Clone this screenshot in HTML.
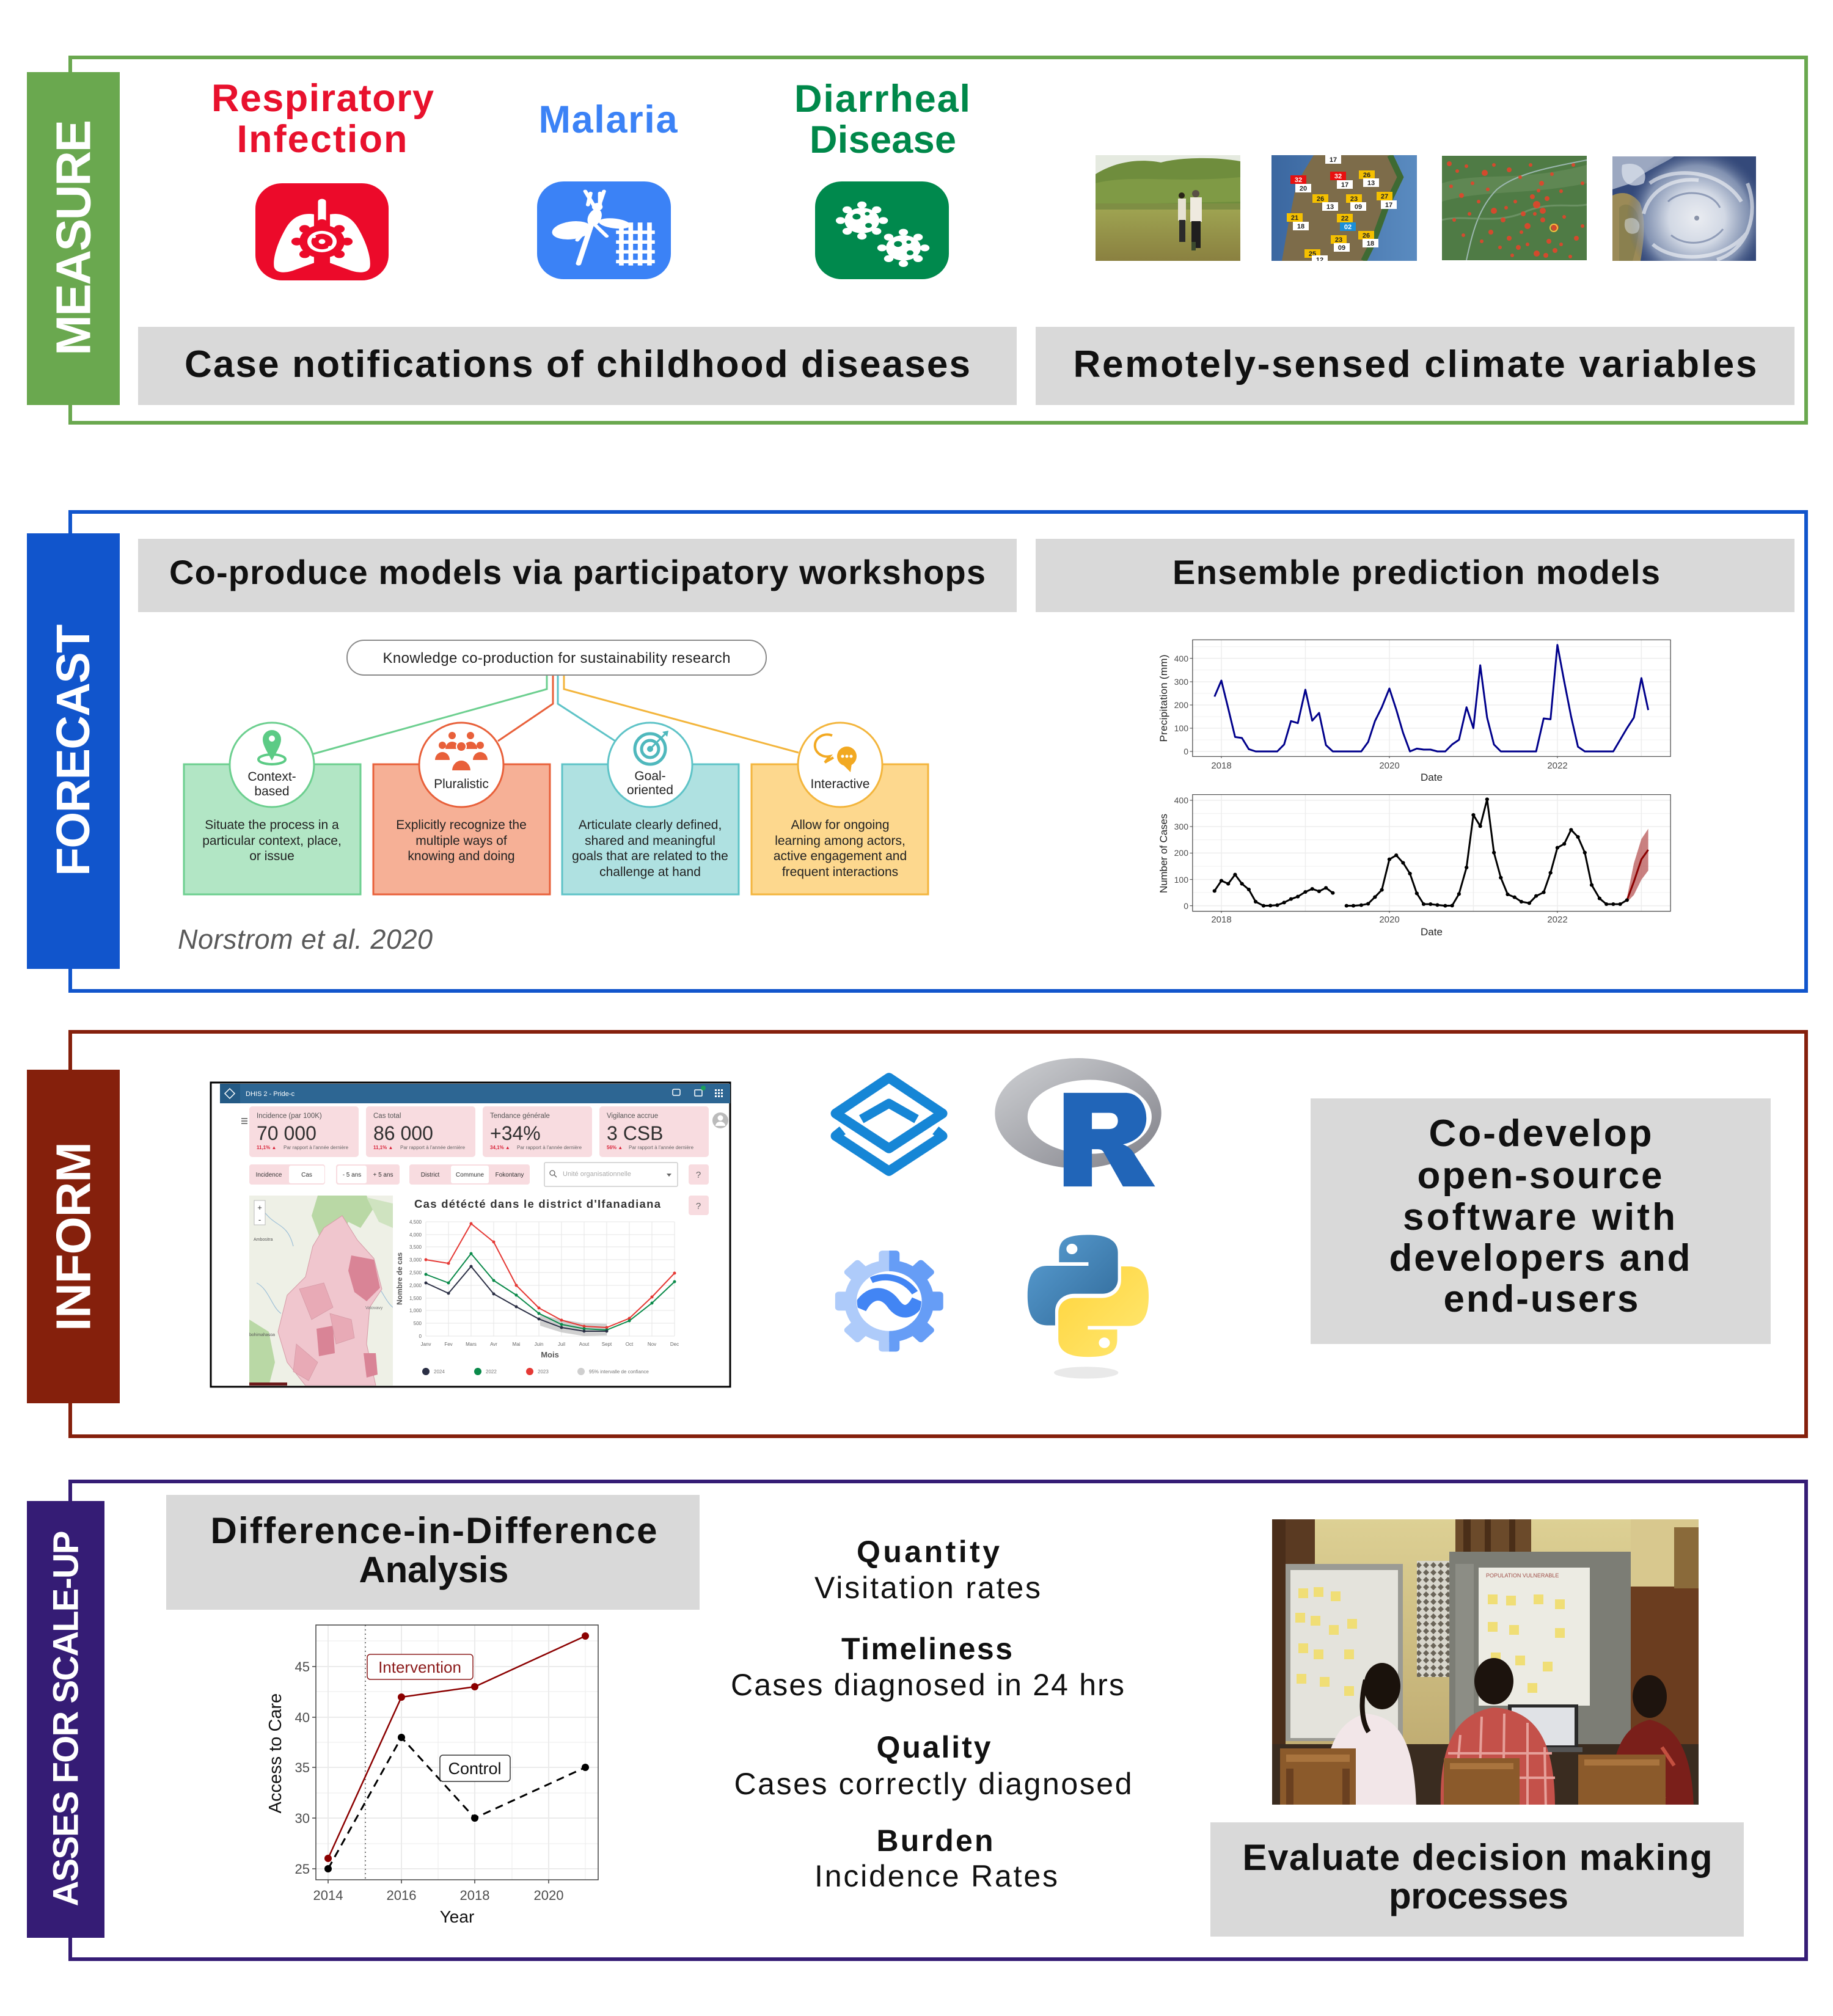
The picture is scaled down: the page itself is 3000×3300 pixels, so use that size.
<!DOCTYPE html>
<html><head><meta charset="utf-8">
<style>
html,body{margin:0;padding:0;background:#fff;width:3000px;height:3300px;overflow:hidden}
svg{display:block}
text{font-family:"Liberation Sans",Arial,sans-serif}
.b{font-weight:bold}
</style></head><body>
<svg xmlns="http://www.w3.org/2000/svg" width="3000" height="3300" viewBox="0 0 3000 3300">
<defs>
 <linearGradient id="rg" x1="0" y1="0" x2="1" y2="1"><stop offset="0" stop-color="#cfd1d4"/><stop offset="1" stop-color="#808088"/></linearGradient>
 <linearGradient id="pyb" x1="0" y1="0" x2="1" y2="1"><stop offset="0" stop-color="#5a9fd4"/><stop offset="1" stop-color="#306998"/></linearGradient>
 <linearGradient id="pyy" x1="0" y1="0" x2="1" y2="1"><stop offset="0" stop-color="#ffe873"/><stop offset="1" stop-color="#ffd43b"/></linearGradient>
 <linearGradient id="grass" x1="0" y1="0" x2="0" y2="1"><stop offset="0" stop-color="#9fa552"/><stop offset="1" stop-color="#8a8040"/></linearGradient>
 <linearGradient id="sea" x1="0" y1="0" x2="1" y2="0"><stop offset="0" stop-color="#3b67a0"/><stop offset="1" stop-color="#5a8bc0"/></linearGradient>
 <radialGradient id="cyc" cx="0.5" cy="0.5" r="0.5"><stop offset="0" stop-color="#ffffff"/><stop offset="0.4" stop-color="#e3e8f0"/><stop offset="0.75" stop-color="#9fadc6" stop-opacity="0.8"/><stop offset="1" stop-color="#4a5d88" stop-opacity="0"/></radialGradient>
 <linearGradient id="wall" x1="0" y1="0" x2="0" y2="1"><stop offset="0" stop-color="#ddd094"/><stop offset="1" stop-color="#b9a46a"/></linearGradient>
 <pattern id="perf" width="12" height="12" patternUnits="userSpaceOnUse"><rect width="12" height="12" fill="#d8d6cc"/><path d="M6 1 L11 6 L6 11 L1 6 Z" fill="#6a6458"/></pattern>
 <clipPath id="cp2"><rect x="2081" y="254" width="238" height="173"/></clipPath>
 <clipPath id="cp3"><rect x="2360" y="255" width="237" height="171"/></clipPath>
 <clipPath id="cp4"><rect x="2639" y="256" width="235" height="171"/></clipPath>
 <clipPath id="cpph"><rect x="2082" y="2487" width="698" height="467"/></clipPath>
 <clipPath id="cpmap"><rect x="408" y="1957" width="235" height="311"/></clipPath>
 <clipPath id="gearR"><rect x="333" y="900" width="400" height="600"/></clipPath>
 <clipPath id="gearIn"><circle cx="333" cy="1190" r="140"/></clipPath>
</defs>
<rect width="3000" height="3300" fill="#fff"/>

<!-- ================= SECTION BOXES ================= -->
<rect x="115" y="94" width="2841" height="598" fill="none" stroke="#6aa84f" stroke-width="6"/>
<rect x="115" y="838" width="2841" height="784" fill="none" stroke="#1155cc" stroke-width="6"/>
<rect x="115" y="1689" width="2841" height="662" fill="none" stroke="#85200c" stroke-width="6"/>
<rect x="115" y="2425" width="2841" height="782" fill="none" stroke="#351c75" stroke-width="6"/>

<rect x="44" y="118" width="152" height="545" fill="#6aa84f"/>
<rect x="44" y="873" width="152" height="713" fill="#1155cc"/>
<rect x="44" y="1751" width="152" height="546" fill="#85200c"/>
<rect x="44" y="2457" width="127" height="715" fill="#351c75"/>

<text class="b" transform="translate(120,389) rotate(-90)" text-anchor="middle" dominant-baseline="central" font-size="80" fill="#fff" textLength="386">MEASURE</text>
<text class="b" transform="translate(120,1228) rotate(-90)" text-anchor="middle" dominant-baseline="central" font-size="77" fill="#fff" textLength="412">FORECAST</text>
<text class="b" transform="translate(120,2024) rotate(-90)" text-anchor="middle" dominant-baseline="central" font-size="80" fill="#fff" textLength="310">INFORM</text>
<text class="b" transform="translate(108,2813) rotate(-90)" text-anchor="middle" dominant-baseline="central" font-size="58" fill="#fff" textLength="615">ASSES FOR SCALE-UP</text>

<!-- ================= MEASURE ================= -->
<text class="b" x="528" y="182" text-anchor="middle" font-size="63" fill="#e8112d" textLength="364">Respiratory</text>
<text class="b" x="527" y="249" text-anchor="middle" font-size="63" fill="#e8112d" textLength="279">Infection</text>
<text class="b" x="995" y="217" text-anchor="middle" font-size="63" fill="#3b82f6" textLength="227">Malaria</text>
<text class="b" x="1444" y="183" text-anchor="middle" font-size="63" fill="#00884a" textLength="288">Diarrheal</text>
<text class="b" x="1445" y="250" text-anchor="middle" font-size="63" fill="#00884a" textLength="240">Disease</text>

<!-- lungs icon -->
<svg x="418" y="300" width="218" height="159" viewBox="0 0 100 100" preserveAspectRatio="none">
 <rect width="100" height="100" rx="20" ry="26" fill="#ec0a2a"/>
 <rect x="47" y="16" width="6" height="26" rx="3" fill="#fff"/>
 <path d="M44 32 C36 30 28 34 23 46 C17 60 13 76 14 86 C15 92 21 93 28 90 L44 82 Z" fill="#fff"/>
 <path d="M56 32 C64 30 72 34 77 46 C83 60 87 76 86 86 C85 92 79 93 72 90 L56 82 Z" fill="#fff"/>
 <g fill="#ec0a2a">
  <circle cx="50" cy="60" r="17"/>
  <circle cx="50" cy="41" r="4"/><circle cx="50" cy="79" r="4"/><circle cx="31" cy="60" r="4"/><circle cx="69" cy="60" r="4"/>
  <circle cx="37" cy="47" r="4"/><circle cx="63" cy="47" r="4"/><circle cx="37" cy="73" r="4"/><circle cx="63" cy="73" r="4"/>
 </g>
 <circle cx="50" cy="60" r="11" fill="#fff"/>
 <circle cx="50" cy="60" r="8" fill="#ec0a2a"/>
 <circle cx="50" cy="60" r="2.5" fill="#fff"/>
 <circle cx="44" cy="55" r="1.5" fill="#fff"/><circle cx="56" cy="66" r="1.5" fill="#fff"/>
</svg>
<!-- mosquito icon -->
<svg x="879" y="297" width="219" height="160" viewBox="0 0 100 100" preserveAspectRatio="none">
 <rect width="100" height="100" rx="20" ry="26" fill="#3b82f6"/>
 <ellipse cx="26" cy="50" rx="15" ry="9" transform="rotate(-12 26 50)" fill="#fff"/>
 <ellipse cx="58" cy="43" rx="12" ry="5" transform="rotate(10 58 43)" fill="#fff"/>
 <g stroke="#fff" stroke-width="3" stroke-linecap="round" fill="none">
  <path d="M43 26 L36 10"/><path d="M46 26 L50 10"/><path d="M40 12 L38 24"/><path d="M47 12 L47 24"/>
  <path d="M44 30 L31 84" stroke-width="4"/>
  <path d="M40 44 L30 60"/><path d="M43 44 L52 56"/>
 </g>
 <ellipse cx="43" cy="37" rx="5" ry="9" transform="rotate(15 43 37)" fill="#fff"/>
 <circle cx="45" cy="26" r="4" fill="#fff"/>
 <g stroke="#fff" stroke-width="3.5" fill="none">
  <path d="M63 42 V86"/><path d="M70 42 V86"/><path d="M77 42 V86"/><path d="M84 42 V86"/>
  <path d="M59 52 H88"/><path d="M59 62 H88"/><path d="M59 72 H88"/><path d="M59 82 H88"/>
 </g>
</svg>
<!-- germs icon -->
<svg x="1334" y="297" width="219" height="160" viewBox="0 0 100 100" preserveAspectRatio="none">
 <rect width="100" height="100" rx="20" ry="26" fill="#00894d"/>
 <g fill="#fff">
  <circle cx="35" cy="40" r="13"/>
  <circle cx="35" cy="24" r="3.5"/><circle cx="35" cy="56" r="3.5"/><circle cx="19" cy="40" r="3.5"/><circle cx="51" cy="40" r="3.5"/>
  <circle cx="24" cy="29" r="3.5"/><circle cx="46" cy="29" r="3.5"/><circle cx="24" cy="51" r="3.5"/><circle cx="46" cy="51" r="3.5"/>
  <circle cx="66" cy="68" r="13"/>
  <circle cx="66" cy="52" r="3.5"/><circle cx="66" cy="84" r="3.5"/><circle cx="50" cy="68" r="3.5"/><circle cx="82" cy="68" r="3.5"/>
  <circle cx="55" cy="57" r="3.5"/><circle cx="77" cy="57" r="3.5"/><circle cx="55" cy="79" r="3.5"/><circle cx="77" cy="79" r="3.5"/>
 </g>
 <g fill="#00894d">
  <circle cx="31" cy="36" r="3"/><circle cx="40" cy="45" r="2.5"/><circle cx="39" cy="33" r="1.8"/>
  <circle cx="62" cy="64" r="3"/><circle cx="71" cy="73" r="2.5"/><circle cx="70" cy="62" r="1.8"/>
 </g>
</svg>

<!-- photo 1 -->
<rect x="1793" y="254" width="237" height="173" fill="#e5eae0"/>
<path d="M1793 285 C1830 262 1870 260 1900 266 C1930 258 1985 256 2030 264 L2030 345 L1793 345 Z" fill="#6f8d3d"/>
<path d="M1793 300 C1850 285 1920 300 2030 290 L2030 330 L1793 335 Z" fill="#7f9a45"/>
<rect x="1793" y="338" width="237" height="89" fill="url(#grass)"/>
<rect x="1793" y="333" width="237" height="10" fill="#7e8e44"/>
<circle cx="1934" cy="320" r="5" fill="#2a2418"/>
<rect x="1928" y="325" width="13" height="36" fill="#e6e1d2"/>
<rect x="1930" y="360" width="10" height="36" fill="#2b2b2b"/>
<circle cx="1957" cy="317" r="6" fill="#5a5046"/>
<rect x="1948" y="323" width="19" height="40" fill="#efeadf"/>
<rect x="1950" y="362" width="15" height="44" fill="#1f1f1f"/>
<rect x="1950" y="396" width="7" height="14" fill="#3b4a2e"/>

<!-- photo 2 map -->
<g clip-path="url(#cp2)">
 <rect x="2081" y="254" width="238" height="173" fill="url(#sea)"/>
 <path d="M2150 254 L2275 254 L2292 290 L2268 340 L2248 395 L2232 427 L2098 427 L2108 370 L2122 300 Z" fill="#7d6c4a"/>
 <path d="M2275 254 L2292 290 L2268 340 L2248 395 L2232 427" stroke="#3e6a33" stroke-width="10" fill="none"/>
 <g font-size="11" font-weight="bold" text-anchor="middle">
  <rect x="2169" y="254" width="26" height="14" fill="#fff"/><text x="2182" y="265" fill="#222">17</text>
  <rect x="2112" y="287" width="26" height="14" fill="#e81010"/><text x="2125" y="298" fill="#fff">32</text>
  <rect x="2120" y="301" width="26" height="14" fill="#fff"/><text x="2133" y="312" fill="#222">20</text>
  <rect x="2177" y="281" width="26" height="14" fill="#e81010"/><text x="2190" y="292" fill="#fff">32</text>
  <rect x="2188" y="295" width="26" height="14" fill="#fff"/><text x="2201" y="306" fill="#222">17</text>
  <rect x="2224" y="279" width="26" height="14" fill="#f5c000"/><text x="2237" y="290" fill="#222">26</text>
  <rect x="2231" y="292" width="26" height="14" fill="#fff"/><text x="2244" y="303" fill="#222">13</text>
  <rect x="2148" y="318" width="26" height="14" fill="#f5c000"/><text x="2161" y="329" fill="#222">26</text>
  <rect x="2164" y="331" width="26" height="14" fill="#fff"/><text x="2177" y="342" fill="#222">13</text>
  <rect x="2203" y="318" width="26" height="14" fill="#f5c000"/><text x="2216" y="329" fill="#222">23</text>
  <rect x="2210" y="331" width="26" height="14" fill="#fff"/><text x="2223" y="342" fill="#222">09</text>
  <rect x="2253" y="314" width="26" height="14" fill="#f5c000"/><text x="2266" y="325" fill="#222">27</text>
  <rect x="2260" y="328" width="26" height="14" fill="#fff"/><text x="2273" y="339" fill="#222">17</text>
  <rect x="2106" y="349" width="26" height="14" fill="#f5c000"/><text x="2119" y="360" fill="#222">21</text>
  <rect x="2116" y="363" width="26" height="14" fill="#fff"/><text x="2129" y="374" fill="#222">18</text>
  <rect x="2188" y="350" width="26" height="14" fill="#f5c000"/><text x="2201" y="361" fill="#222">22</text>
  <rect x="2193" y="364" width="26" height="14" fill="#1a8fd8"/><text x="2206" y="375" fill="#fff">02</text>
  <rect x="2223" y="378" width="26" height="14" fill="#f5c000"/><text x="2236" y="389" fill="#222">26</text>
  <rect x="2230" y="391" width="26" height="14" fill="#fff"/><text x="2243" y="402" fill="#222">18</text>
  <rect x="2178" y="385" width="26" height="14" fill="#f5c000"/><text x="2191" y="396" fill="#222">23</text>
  <rect x="2183" y="398" width="26" height="14" fill="#fff"/><text x="2196" y="409" fill="#222">09</text>
  <rect x="2135" y="408" width="26" height="14" fill="#f5c000"/><text x="2148" y="419" fill="#222">25</text>
  <rect x="2147" y="418" width="26" height="14" fill="#fff"/><text x="2160" y="429" fill="#222">12</text>
 </g>
</g>

<!-- photo 3 fires -->
<g clip-path="url(#cp3)">
 <rect x="2360" y="255" width="237" height="171" fill="#4f7b45"/>
 <path d="M2360 300 C2420 280 2480 300 2597 270 L2597 300 C2500 320 2430 310 2360 330 Z" fill="#6a8f5e" opacity="0.6"/>
 <path d="M2400 426 C2410 380 2420 340 2450 310 C2480 285 2530 275 2597 262" stroke="#9cb7b0" stroke-width="2" fill="none"/>
 <path d="M2360 360 C2400 350 2450 370 2500 345 C2540 330 2570 340 2597 335" stroke="#7fa078" stroke-width="3" fill="none" opacity="0.6"/>
 <g fill="#e2452b" opacity="0.9">
  <circle cx="2372" cy="268" r="4"/><circle cx="2385" cy="280" r="3"/><circle cx="2400" cy="272" r="3"/><circle cx="2430" cy="283" r="5"/>
  <circle cx="2445" cy="270" r="3"/><circle cx="2470" cy="278" r="4"/><circle cx="2488" cy="290" r="3"/><circle cx="2505" cy="270" r="3"/>
  <circle cx="2523" cy="300" r="4"/><circle cx="2540" cy="285" r="3"/><circle cx="2555" cy="313" r="3"/><circle cx="2575" cy="270" r="3"/>
  <circle cx="2375" cy="305" r="3"/><circle cx="2392" cy="320" r="4"/><circle cx="2410" cy="300" r="3"/><circle cx="2420" cy="330" r="3"/>
  <circle cx="2445" cy="345" r="5"/><circle cx="2460" cy="360" r="4"/><circle cx="2480" cy="330" r="3"/><circle cx="2493" cy="350" r="4"/>
  <circle cx="2500" cy="370" r="5"/><circle cx="2515" cy="335" r="6"/><circle cx="2525" cy="345" r="5"/><circle cx="2532" cy="325" r="4"/>
  <circle cx="2525" cy="360" r="4"/><circle cx="2545" cy="372" r="6"/><circle cx="2560" cy="355" r="3"/><circle cx="2580" cy="390" r="4"/>
  <circle cx="2470" cy="390" r="4"/><circle cx="2455" cy="405" r="3"/><circle cx="2485" cy="405" r="4"/><circle cx="2515" cy="415" r="5"/>
  <circle cx="2530" cy="418" r="4"/><circle cx="2545" cy="410" r="4"/><circle cx="2380" cy="360" r="3"/><circle cx="2395" cy="385" r="3"/>
  <circle cx="2425" cy="395" r="3"/><circle cx="2570" cy="420" r="3"/><circle cx="2590" cy="300" r="3"/><circle cx="2435" cy="310" r="3"/>
  <circle cx="2508" cy="322" r="4"/><circle cx="2518" cy="312" r="3"/><circle cx="2512" cy="350" r="3"/><circle cx="2535" cy="395" r="4"/>
  <circle cx="2490" cy="380" r="3"/><circle cx="2465" cy="340" r="3"/><circle cx="2440" cy="380" r="4"/><circle cx="2405" cy="350" r="3"/>
  <circle cx="2555" cy="400" r="3"/><circle cx="2500" cy="400" r="3"/><circle cx="2475" cy="418" r="3"/><circle cx="2590" cy="370" r="3"/>
 </g>
 <circle cx="2543" cy="373" r="6" fill="none" stroke="#f0c040" stroke-width="2"/>
</g>

<!-- photo 4 cyclone -->
<g clip-path="url(#cp4)">
 <rect x="2639" y="256" width="235" height="171" fill="#34497a"/>
 <path d="M2639 256 L2740 256 C2720 270 2690 280 2670 300 L2639 310 Z" fill="#c9d2e0" opacity="0.7"/>
 <path d="M2639 320 C2655 312 2672 316 2684 332 C2695 360 2690 395 2685 427 L2639 427 Z" fill="#9b8a57"/>
 <path d="M2650 340 C2660 330 2672 335 2680 350 C2685 370 2680 400 2672 427 L2650 427 Z" fill="#7e7a4a" opacity="0.6"/>
 <circle cx="2777" cy="357" r="115" fill="url(#cyc)" opacity="0.9"/>
 <g fill="none" stroke="#ffffff" stroke-width="6" opacity="0.55">
  <path d="M2700 300 C2740 270 2820 280 2850 330"/>
  <path d="M2705 400 C2740 430 2820 430 2860 380"/>
  <path d="M2690 350 C2700 310 2740 290 2780 295"/>
  <path d="M2860 300 C2880 350 2860 410 2810 425"/>
 </g>
 <g fill="none" stroke="#4d5f8a" stroke-width="3" opacity="0.5">
  <path d="M2730 330 C2750 310 2800 310 2815 340"/>
  <path d="M2735 385 C2760 405 2800 400 2820 375"/>
 </g>
 <path d="M2655 270 C2680 262 2700 280 2690 300 C2670 310 2650 300 2655 270 Z" fill="#dfe5ee" opacity="0.7"/>
 <path d="M2660 360 C2675 350 2690 365 2680 380 C2668 388 2655 378 2660 360 Z" fill="#dfe5ee" opacity="0.5"/>
 <circle cx="2777" cy="357" r="4" fill="#8a93a8"/>
</g>

<!-- gray boxes -->
<rect x="226" y="535" width="1438" height="128" fill="#d9d9d9"/>
<rect x="1695" y="535" width="1242" height="128" fill="#d9d9d9"/>
<text class="b" x="945" y="617" text-anchor="middle" font-size="62" fill="#111" textLength="1286">Case notifications of childhood diseases</text>
<text class="b" x="2316" y="617" text-anchor="middle" font-size="62" fill="#111" textLength="1119">Remotely-sensed climate variables</text>

<!-- ================= FORECAST ================= -->
<rect x="226" y="882" width="1438" height="120" fill="#d9d9d9"/>
<rect x="1695" y="882" width="1242" height="120" fill="#d9d9d9"/>
<text class="b" x="945" y="956" text-anchor="middle" font-size="56" fill="#111" textLength="1336">Co-produce models via participatory workshops</text>
<text class="b" x="2318" y="956" text-anchor="middle" font-size="56" fill="#111" textLength="798">Ensemble prediction models</text>

<!-- diagram connectors -->
<g fill="none" stroke-width="3">
 <path d="M895 1105 L895 1128 L513 1234" stroke="#6ccf8f"/>
 <path d="M905 1105 L905 1152 L815 1213" stroke="#e8603a"/>
 <path d="M913 1105 L913 1152 L1007 1213" stroke="#5ec3c7"/>
 <path d="M923 1105 L923 1128 L1307 1232" stroke="#f3b53c"/>
</g>
<rect x="568" y="1048" width="686" height="57" rx="28" fill="#fff" stroke="#8a8a8a" stroke-width="2"/>
<text x="911" y="1085" text-anchor="middle" font-size="24" fill="#222" textLength="569">Knowledge co-production for sustainability research</text>

<!-- four boxes -->
<rect x="301" y="1251" width="289" height="213" fill="#b2e6c5" stroke="#6ccf8f" stroke-width="3"/>
<rect x="611" y="1251" width="289" height="213" fill="#f6b096" stroke="#e8603a" stroke-width="3"/>
<rect x="920" y="1251" width="289" height="213" fill="#afe1e1" stroke="#5ec3c7" stroke-width="3"/>
<rect x="1230" y="1251" width="289" height="213" fill="#fdd88e" stroke="#f3b53c" stroke-width="3"/>
<circle cx="445" cy="1252" r="69" fill="#fff" stroke="#6ccf8f" stroke-width="3"/>
<circle cx="755" cy="1252" r="69" fill="#fff" stroke="#e8603a" stroke-width="3"/>
<circle cx="1064" cy="1252" r="69" fill="#fff" stroke="#5ec3c7" stroke-width="3"/>
<circle cx="1375" cy="1252" r="69" fill="#fff" stroke="#f3b53c" stroke-width="3"/>

<!-- pin -->
<ellipse cx="445" cy="1243" rx="22" ry="8" fill="none" stroke="#5ccb85" stroke-width="4"/>
<path d="M445 1245 C437 1230 430 1220 430 1210 A15 15 0 1 1 460 1210 C460 1220 453 1230 445 1245 Z" fill="#5ccb85"/>
<circle cx="445" cy="1209" r="5" fill="#fff"/>
<!-- people -->
<g fill="#e8603a">
 <circle cx="740" cy="1204" r="6"/><circle cx="770" cy="1204" r="6"/>
 <path d="M729 1226 a11 12 0 0 1 22 0 z"/><path d="M759 1226 a11 12 0 0 1 22 0 z"/>
 <circle cx="724" cy="1220" r="6"/><circle cx="786" cy="1220" r="6"/>
 <path d="M712 1244 a12 13 0 0 1 24 0 z"/><path d="M774 1244 a12 13 0 0 1 24 0 z"/>
 <circle cx="755" cy="1222" r="8" stroke="#fff" stroke-width="2"/>
 <path d="M739 1262 a16 18 0 0 1 32 0 z" stroke="#fff" stroke-width="2"/>
</g>
<!-- target -->
<g fill="none" stroke="#4fb8bd" stroke-width="5">
 <circle cx="1064" cy="1226" r="25"/><circle cx="1064" cy="1226" r="14"/>
</g>
<circle cx="1064" cy="1226" r="5" fill="#4fb8bd"/>
<path d="M1064 1226 L1088 1202" stroke="#4fb8bd" stroke-width="3"/>
<path d="M1084 1198 L1094 1196 L1092 1206 Z" fill="#4fb8bd"/>
<!-- bubbles -->
<path d="M1362 1204 a20 18 0 1 0 -4 34 l-8 10 l14 -8" fill="none" stroke="#f2a922" stroke-width="4"/>
<circle cx="1386" cy="1238" r="16" fill="#f2a922"/>
<path d="M1380 1252 L1392 1264 L1394 1250 Z" fill="#f2a922"/>
<g fill="#fff"><circle cx="1379" cy="1238" r="2.5"/><circle cx="1386" cy="1238" r="2.5"/><circle cx="1393" cy="1238" r="2.5"/></g>

<g font-size="21" fill="#222" text-anchor="middle">
 <text x="445" y="1278">Context-</text><text x="445" y="1302">based</text>
 <text x="755" y="1290">Pluralistic</text>
 <text x="1064" y="1277">Goal-</text><text x="1064" y="1300">oriented</text>
 <text x="1375" y="1290">Interactive</text>
 <text x="445" y="1357">Situate the process in a</text>
 <text x="445" y="1383">particular context, place,</text>
 <text x="445" y="1408">or issue</text>
 <text x="755" y="1357">Explicitly recognize the</text>
 <text x="755" y="1383">multiple ways of</text>
 <text x="755" y="1408">knowing and doing</text>
 <text x="1064" y="1357">Articulate clearly defined,</text>
 <text x="1064" y="1383">shared and meaningful</text>
 <text x="1064" y="1408">goals that are related to the</text>
 <text x="1064" y="1434">challenge at hand</text>
 <text x="1375" y="1357">Allow for ongoing</text>
 <text x="1375" y="1383">learning among actors,</text>
 <text x="1375" y="1408">active engagement and</text>
 <text x="1375" y="1434">frequent interactions</text>
</g>
<text x="291" y="1553" font-size="45" font-style="italic" fill="#595959" textLength="417">Norstrom et al. 2020</text>

<!-- precipitation chart -->
<g transform="translate(1880,1030) scale(0.56117,0.33333)">
 <rect x="128" y="52" width="1394" height="573" fill="#fff"/>
 <path d="M128 600 H1522 M128 486 H1522 M128 372 H1522 M128 258 H1522 M128 143 H1522" stroke="#ededed" stroke-width="1.5" vector-effect="non-scaling-stroke"/>
 <path d="M128 543 H1522 M128 429 H1522 M128 315 H1522 M128 200 H1522 M128 86 H1522" stroke="#ededed" stroke-width="0.8" vector-effect="non-scaling-stroke"/>
 <path d="M212 52 V625 M457 52 V625 M702 52 V625 M947 52 V625 M1192 52 V625 M1437 52 V625" stroke="#ededed" stroke-width="1.5" vector-effect="non-scaling-stroke"/>
 <polyline fill="none" stroke="#00008b" stroke-width="3" stroke-linejoin="round" vector-effect="non-scaling-stroke" points="192,331 212,252 232,389 252,529 272,534 292,589 312,600 332,600 352,600 375,600 395,566 415,451 435,461 457,297 477,449 497,411 517,569 537,600 560,600 580,600 600,600 620,600 640,554 660,451 680,383 702,291 722,394 742,509 762,600 782,586 802,591 822,591 842,600 865,600 885,566 905,543 927,383 947,486 967,177 987,434 1007,566 1027,600 1050,600 1070,600 1090,600 1110,600 1130,600 1152,438 1172,442 1192,77 1212,257 1232,429 1252,577 1272,600 1295,600 1315,600 1335,600 1355,600 1375,543 1395,486 1415,434 1437,240 1457,397"/>
 <rect x="128" y="52" width="1394" height="573" fill="none" stroke="#444" stroke-width="1.2" vector-effect="non-scaling-stroke"/>
 <path d="M120 600 H128 M120 486 H128 M120 372 H128 M120 258 H128 M120 143 H128 M212 625 V633 M702 625 V633 M1192 625 V633" stroke="#444" stroke-width="1" vector-effect="non-scaling-stroke"/>
</g>
<g font-size="14" fill="#4d4d4d" text-anchor="end">
 <text x="1945" y="1235">0</text><text x="1945" y="1197">100</text><text x="1945" y="1159">200</text><text x="1945" y="1121">300</text><text x="1945" y="1083">400</text>
</g>
<g font-size="15" fill="#4d4d4d" text-anchor="middle">
 <text x="1999" y="1258">2018</text><text x="2274" y="1258">2020</text><text x="2549" y="1258">2022</text>
</g>
<text x="2343" y="1278" font-size="17" text-anchor="middle" fill="#222">Date</text>
<text transform="translate(1910,1143) rotate(-90)" font-size="17" text-anchor="middle" fill="#222" textLength="143">Precipitation (mm)</text>

<!-- cases chart -->
<g transform="translate(1880,1030) scale(0.56117,0.33333)">
 <rect x="128" y="812" width="1394" height="573" fill="#fff"/>
 <path d="M128 1358 H1522 M128 1229 H1522 M128 1099 H1522 M128 969 H1522 M128 840 H1522" stroke="#ededed" stroke-width="1.5" vector-effect="non-scaling-stroke"/>
 <path d="M128 1293 H1522 M128 1164 H1522 M128 1034 H1522 M128 905 H1522" stroke="#ededed" stroke-width="0.8" vector-effect="non-scaling-stroke"/>
 <path d="M212 812 V1385 M457 812 V1385 M702 812 V1385 M947 812 V1385 M1192 812 V1385 M1437 812 V1385" stroke="#ededed" stroke-width="1.5" vector-effect="non-scaling-stroke"/>
 <polygon points="1395,1318 1415,1150 1437,1030 1457,980 1457,1185 1437,1230 1415,1305 1395,1340" fill="#b24a4a" opacity="0.7"/>
 <polyline fill="none" stroke="#000" stroke-width="3" stroke-linejoin="round" vector-effect="non-scaling-stroke" points="192,1285 212,1235 232,1250 252,1205 272,1250 292,1278 312,1338 335,1358 355,1357 375,1355 395,1342 415,1325 435,1313 457,1290 477,1275 497,1287 517,1270 537,1295"/>
 <polyline fill="none" stroke="#000" stroke-width="3" stroke-linejoin="round" vector-effect="non-scaling-stroke" points="577,1358 597,1358 620,1355 640,1348 660,1315 680,1280 702,1130 722,1110 742,1147 762,1200 782,1297 802,1350 822,1350 842,1354 865,1358 885,1357 905,1300 927,1170 947,912 967,967 987,835 1007,1097 1027,1220 1047,1302 1067,1316 1087,1338 1110,1345 1130,1310 1152,1292 1172,1196 1192,1073 1212,1054 1232,985 1252,1020 1272,1097 1292,1256 1315,1322 1335,1350 1355,1350 1375,1350 1395,1330"/>
 <polyline fill="none" stroke="#8b0000" stroke-width="3" vector-effect="non-scaling-stroke" points="1395,1330 1415,1240 1437,1130 1457,1083"/>
 <g fill="#000">
  <ellipse cx="192" cy="1285" rx="5.6" ry="9"/><ellipse cx="212" cy="1235" rx="5.6" ry="9"/><ellipse cx="232" cy="1250" rx="5.6" ry="9"/><ellipse cx="252" cy="1205" rx="5.6" ry="9"/><ellipse cx="272" cy="1250" rx="5.6" ry="9"/><ellipse cx="292" cy="1278" rx="5.6" ry="9"/><ellipse cx="312" cy="1338" rx="5.6" ry="9"/><ellipse cx="335" cy="1358" rx="5.6" ry="9"/><ellipse cx="355" cy="1357" rx="5.6" ry="9"/><ellipse cx="375" cy="1355" rx="5.6" ry="9"/><ellipse cx="395" cy="1342" rx="5.6" ry="9"/><ellipse cx="415" cy="1325" rx="5.6" ry="9"/><ellipse cx="435" cy="1313" rx="5.6" ry="9"/><ellipse cx="457" cy="1290" rx="5.6" ry="9"/><ellipse cx="477" cy="1275" rx="5.6" ry="9"/><ellipse cx="497" cy="1287" rx="5.6" ry="9"/><ellipse cx="517" cy="1270" rx="5.6" ry="9"/><ellipse cx="537" cy="1295" rx="5.6" ry="9"/>
  <ellipse cx="577" cy="1358" rx="5.6" ry="9"/><ellipse cx="597" cy="1358" rx="5.6" ry="9"/><ellipse cx="620" cy="1355" rx="5.6" ry="9"/><ellipse cx="640" cy="1348" rx="5.6" ry="9"/><ellipse cx="660" cy="1315" rx="5.6" ry="9"/><ellipse cx="680" cy="1280" rx="5.6" ry="9"/><ellipse cx="702" cy="1130" rx="5.6" ry="9"/><ellipse cx="722" cy="1110" rx="5.6" ry="9"/><ellipse cx="742" cy="1147" rx="5.6" ry="9"/><ellipse cx="762" cy="1200" rx="5.6" ry="9"/><ellipse cx="782" cy="1297" rx="5.6" ry="9"/><ellipse cx="802" cy="1350" rx="5.6" ry="9"/><ellipse cx="822" cy="1350" rx="5.6" ry="9"/><ellipse cx="842" cy="1354" rx="5.6" ry="9"/><ellipse cx="865" cy="1358" rx="5.6" ry="9"/><ellipse cx="885" cy="1357" rx="5.6" ry="9"/><ellipse cx="905" cy="1300" rx="5.6" ry="9"/><ellipse cx="927" cy="1170" rx="5.6" ry="9"/><ellipse cx="947" cy="912" rx="5.6" ry="9"/><ellipse cx="967" cy="967" rx="5.6" ry="9"/><ellipse cx="987" cy="835" rx="5.6" ry="9"/><ellipse cx="1007" cy="1097" rx="5.6" ry="9"/><ellipse cx="1027" cy="1220" rx="5.6" ry="9"/><ellipse cx="1047" cy="1302" rx="5.6" ry="9"/><ellipse cx="1067" cy="1316" rx="5.6" ry="9"/><ellipse cx="1087" cy="1338" rx="5.6" ry="9"/><ellipse cx="1110" cy="1345" rx="5.6" ry="9"/><ellipse cx="1130" cy="1310" rx="5.6" ry="9"/><ellipse cx="1152" cy="1292" rx="5.6" ry="9"/><ellipse cx="1172" cy="1196" rx="5.6" ry="9"/><ellipse cx="1192" cy="1073" rx="5.6" ry="9"/><ellipse cx="1212" cy="1054" rx="5.6" ry="9"/><ellipse cx="1232" cy="985" rx="5.6" ry="9"/><ellipse cx="1252" cy="1020" rx="5.6" ry="9"/><ellipse cx="1272" cy="1097" rx="5.6" ry="9"/><ellipse cx="1292" cy="1256" rx="5.6" ry="9"/><ellipse cx="1315" cy="1322" rx="5.6" ry="9"/><ellipse cx="1335" cy="1350" rx="5.6" ry="9"/><ellipse cx="1355" cy="1350" rx="5.6" ry="9"/><ellipse cx="1375" cy="1350" rx="5.6" ry="9"/><ellipse cx="1395" cy="1330" rx="5.6" ry="9"/>
 </g>
 <rect x="128" y="812" width="1394" height="573" fill="none" stroke="#444" stroke-width="1.2" vector-effect="non-scaling-stroke"/>
 <path d="M120 1358 H128 M120 1229 H128 M120 1099 H128 M120 969 H128 M120 840 H128 M212 1385 V1393 M702 1385 V1393 M1192 1385 V1393" stroke="#444" stroke-width="1" vector-effect="non-scaling-stroke"/>
</g>
<g font-size="14" fill="#4d4d4d" text-anchor="end">
 <text x="1945" y="1488">0</text><text x="1945" y="1445">100</text><text x="1945" y="1401">200</text><text x="1945" y="1358">300</text><text x="1945" y="1315">400</text>
</g>
<g font-size="15" fill="#4d4d4d" text-anchor="middle">
 <text x="1999" y="1510">2018</text><text x="2274" y="1510">2020</text><text x="2549" y="1510">2022</text>
</g>
<text x="2343" y="1531" font-size="17" text-anchor="middle" fill="#222">Date</text>
<text transform="translate(1910,1397) rotate(-90)" font-size="17" text-anchor="middle" fill="#222" textLength="130">Number of Cases</text>

<!-- ================= INFORM ================= -->
<!-- dashboard -->
<rect x="345" y="1772" width="850" height="498" fill="#fff" stroke="#000" stroke-width="3"/>
<rect x="360" y="1774" width="835" height="32" fill="#2d6693"/>
<rect x="360" y="1774" width="33" height="32" fill="#245a85"/>
<path d="M376 1782 L384 1790 L376 1798 L368 1790 Z" fill="none" stroke="#fff" stroke-width="1.5"/>
<text x="402" y="1794" font-size="11" fill="#fff">DHIS 2 - Pride-c</text>
<rect x="1101" y="1783" width="12" height="10" rx="2" fill="none" stroke="#fff" stroke-width="1.5"/>
<rect x="1137" y="1784" width="12" height="10" rx="1" fill="none" stroke="#fff" stroke-width="1.5"/>
<circle cx="1151" cy="1781" r="4" fill="#1b9e5a"/>
<g fill="#fff"><rect x="1170" y="1783" width="3" height="3"/><rect x="1175" y="1783" width="3" height="3"/><rect x="1180" y="1783" width="3" height="3"/><rect x="1170" y="1788" width="3" height="3"/><rect x="1175" y="1788" width="3" height="3"/><rect x="1180" y="1788" width="3" height="3"/><rect x="1170" y="1793" width="3" height="3"/><rect x="1175" y="1793" width="3" height="3"/><rect x="1180" y="1793" width="3" height="3"/></g>
<path d="M395 1831 H405 M395 1835 H405 M395 1839 H405" stroke="#555" stroke-width="1.5"/>

<g>
 <rect x="408" y="1811" width="179" height="83" rx="5" fill="#f8dce0"/>
 <rect x="599" y="1811" width="179" height="83" rx="5" fill="#f8dce0"/>
 <rect x="790" y="1811" width="179" height="83" rx="5" fill="#f8dce0"/>
 <rect x="981" y="1811" width="179" height="83" rx="5" fill="#f8dce0"/>
 <g font-size="11.5" fill="#555">
  <text x="420" y="1830">Incidence (par 100K)</text><text x="611" y="1830">Cas total</text><text x="802" y="1830">Tendance générale</text><text x="993" y="1830">Vigilance accrue</text>
 </g>
 <g font-size="32" fill="#2f2f2f">
  <text x="420" y="1866">70 000</text><text x="611" y="1866">86 000</text><text x="802" y="1866">+34%</text><text x="993" y="1866">3 CSB</text>
 </g>
 <g font-size="8" fill="#d9263b" font-weight="bold">
  <text x="420" y="1881">11,1% ▲</text><text x="611" y="1881">11,1% ▲</text><text x="802" y="1881">34,1% ▲</text><text x="993" y="1881">56% ▲</text>
 </g>
 <g font-size="8" fill="#666">
  <text x="464" y="1881">Par rapport à l'année dernière</text><text x="655" y="1881">Par rapport à l'année dernière</text><text x="846" y="1881">Par rapport à l'année dernière</text><text x="1029" y="1881">Par rapport à l'année dernière</text>
 </g>
</g>
<circle cx="1179" cy="1834" r="13" fill="#bbb"/>
<circle cx="1179" cy="1830" r="4.5" fill="#fff"/><path d="M1171 1843 a8 7 0 0 1 16 0 z" fill="#fff"/>

<!-- filters -->
<rect x="408" y="1906" width="124" height="33" rx="4" fill="#f8dce0"/>
<rect x="473" y="1908" width="58" height="29" rx="3" fill="#fff"/>
<rect x="550" y="1906" width="104" height="33" rx="4" fill="#f8dce0"/>
<rect x="552" y="1908" width="48" height="29" rx="3" fill="#fff"/>
<rect x="670" y="1906" width="197" height="33" rx="4" fill="#f8dce0"/>
<rect x="738" y="1908" width="62" height="29" rx="3" fill="#fff"/>
<rect x="891" y="1903" width="218" height="39" rx="2" fill="#fff" stroke="#ccc" stroke-width="1.5"/>
<rect x="1127" y="1906" width="33" height="33" rx="4" fill="#f8dce0"/>
<g font-size="10" fill="#333" text-anchor="middle">
 <text x="440" y="1926">Incidence</text><text x="502" y="1926">Cas</text>
 <text x="576" y="1926">- 5 ans</text><text x="627" y="1926">+ 5 ans</text>
 <text x="704" y="1926">District</text><text x="769" y="1926">Commune</text><text x="834" y="1926">Fokontany</text>
</g>
<circle cx="904" cy="1920" r="4" fill="none" stroke="#666" stroke-width="1.3"/><path d="M907 1923 L911 1927" stroke="#666" stroke-width="1.3"/>
<text x="921" y="1925" font-size="11" fill="#aaa">Unité organisationnelle</text>
<path d="M1091 1921 L1099 1921 L1095 1926 Z" fill="#666"/>
<text x="1143" y="1928" font-size="15" fill="#666" text-anchor="middle">?</text>

<!-- map -->
<g clip-path="url(#cpmap)">
 <rect x="408" y="1957" width="235" height="311" fill="#eef0e6"/>
 <path d="M520 1957 L600 1957 L610 1980 L590 2010 L570 2000 L555 2040 L540 2060 L525 2030 L510 1990 Z" fill="#b9d8a5"/>
 <path d="M600 1960 L643 1970 L643 2010 L620 2000 Z" fill="#cfe3c0"/>
 <path d="M408 2160 L440 2180 L450 2230 L440 2268 L408 2268 Z" fill="#b9d8a5"/>
 <path d="M430 1980 C450 2010 470 2000 480 2040 M600 2080 C620 2100 630 2130 643 2140 M420 2100 C440 2110 445 2140 460 2150" stroke="#9ec0d8" stroke-width="1.2" fill="none"/>
 <path d="M530 2010 L560 1990 L585 2030 L612 2060 L625 2110 L605 2140 L600 2200 L615 2268 L500 2268 L470 2230 L455 2180 L470 2120 L500 2090 L512 2040 Z" fill="#f0c6ce" stroke="#d59aa6" stroke-width="1"/>
 <path d="M575 2055 L612 2062 L622 2108 L600 2130 L580 2115 L570 2080 Z" fill="#d98496"/>
 <path d="M518 2175 L545 2170 L548 2215 L522 2220 Z" fill="#d98496"/>
 <path d="M595 2215 L615 2215 L618 2250 L600 2255 Z" fill="#d98496"/>
 <path d="M490 2110 L530 2100 L545 2140 L510 2160 Z M540 2150 L575 2160 L580 2190 L550 2200 Z M485 2200 L520 2230 L505 2260 L480 2245 Z" fill="#e8aab6" stroke="#d59aa6" stroke-width="0.8"/>
 <rect x="416" y="1965" width="18" height="40" fill="#fff" stroke="#bbb"/>
 <text x="425" y="1981" font-size="13" text-anchor="middle" fill="#333">+</text>
 <text x="425" y="2001" font-size="13" text-anchor="middle" fill="#333">-</text>
 <text x="415" y="2031" font-size="7" fill="#555">Ambositra</text>
 <text x="598" y="2143" font-size="7" fill="#777">Vatovavy</text>
 <text x="408" y="2187" font-size="7" fill="#555">bohimahasoa</text>
 <rect x="360" y="2263" width="110" height="8" fill="#6d1b1b"/>
</g>

<!-- dashboard chart -->
<text x="678" y="1977" font-size="18.5" font-weight="bold" fill="#333" textLength="403">Cas détécté dans le district d'Ifanadiana</text>
<rect x="1127" y="1957" width="33" height="32" rx="4" fill="#f8dce0"/>
<text x="1143" y="1979" font-size="15" fill="#666" text-anchor="middle">?</text>
<g stroke="#e6e6e6" stroke-width="1">
 <path d="M697 2187 H1104 M697 2166 H1104 M697 2145 H1104 M697 2125 H1104 M697 2104 H1104 M697 2083 H1104 M697 2062 H1104 M697 2041 H1104 M697 2021 H1104 M697 2000 H1104"/>
 <path d="M697 2000 V2187 M734 2000 V2187 M771 2000 V2187 M808 2000 V2187 M845 2000 V2187 M882 2000 V2187 M919 2000 V2187 M956 2000 V2187 M993 2000 V2187 M1030 2000 V2187 M1067 2000 V2187 M1104 2000 V2187"/>
</g>
<g font-size="8" fill="#666" text-anchor="end">
 <text x="690" y="2190">0</text><text x="690" y="2169">500</text><text x="690" y="2148">1,000</text><text x="690" y="2128">1,500</text><text x="690" y="2107">2,000</text><text x="690" y="2086">2,500</text><text x="690" y="2065">3,000</text><text x="690" y="2044">3,500</text><text x="690" y="2024">4,000</text><text x="690" y="2003">4,500</text>
</g>
<polygon points="884,2152 919,2160 956,2166 993,2167 993,2186 956,2187 919,2181 884,2170" fill="#bcbcbc" opacity="0.7"/>
<g fill="none" stroke-width="2" stroke-linejoin="round">
 <polyline stroke="#e53935" points="697,2062 734,2068 771,2003 808,2033 845,2104 882,2141 919,2161 956,2171 993,2173 1030,2158 1067,2123 1104,2084"/>
 <polyline stroke="#0a8a4a" points="697,2086 734,2100 771,2052 808,2096 845,2120 882,2150 919,2168 956,2175 993,2177 1030,2162 1067,2133 1104,2098"/>
 <polyline stroke="#2b2f45" points="697,2100 734,2117 771,2073 808,2118 845,2139 882,2159 919,2173 956,2179 993,2179"/>
</g>
<g fill="#e53935"><circle cx="697" cy="2062" r="2.5"/><circle cx="734" cy="2068" r="2.5"/><circle cx="771" cy="2003" r="2.5"/><circle cx="808" cy="2033" r="2.5"/><circle cx="845" cy="2104" r="2.5"/><circle cx="882" cy="2141" r="2.5"/><circle cx="919" cy="2161" r="2.5"/><circle cx="956" cy="2171" r="2.5"/><circle cx="993" cy="2173" r="2.5"/><circle cx="1030" cy="2158" r="2.5"/><circle cx="1067" cy="2123" r="2.5"/><circle cx="1104" cy="2084" r="2.5"/></g>
<g fill="#0a8a4a"><circle cx="697" cy="2086" r="2.5"/><circle cx="734" cy="2100" r="2.5"/><circle cx="771" cy="2052" r="2.5"/><circle cx="808" cy="2096" r="2.5"/><circle cx="845" cy="2120" r="2.5"/><circle cx="882" cy="2150" r="2.5"/><circle cx="919" cy="2168" r="2.5"/><circle cx="956" cy="2175" r="2.5"/><circle cx="993" cy="2177" r="2.5"/><circle cx="1030" cy="2162" r="2.5"/><circle cx="1067" cy="2133" r="2.5"/><circle cx="1104" cy="2098" r="2.5"/></g>
<g fill="#2b2f45"><circle cx="697" cy="2100" r="2.5"/><circle cx="734" cy="2117" r="2.5"/><circle cx="771" cy="2073" r="2.5"/><circle cx="808" cy="2118" r="2.5"/><circle cx="845" cy="2139" r="2.5"/><circle cx="882" cy="2159" r="2.5"/><circle cx="919" cy="2173" r="2.5"/><circle cx="956" cy="2179" r="2.5"/><circle cx="993" cy="2179" r="2.5"/></g>
<g font-size="8" fill="#666" text-anchor="middle">
 <text x="697" y="2203">Janv</text><text x="734" y="2203">Fev</text><text x="771" y="2203">Mars</text><text x="808" y="2203">Avr</text><text x="845" y="2203">Mai</text><text x="882" y="2203">Juin</text><text x="919" y="2203">Juil</text><text x="956" y="2203">Aout</text><text x="993" y="2203">Sept</text><text x="1030" y="2203">Oct</text><text x="1067" y="2203">Nov</text><text x="1104" y="2203">Dec</text>
</g>
<text x="900" y="2222" font-size="13" font-weight="bold" fill="#555" text-anchor="middle">Mois</text>
<text transform="translate(658,2093) rotate(-90)" font-size="12" font-weight="bold" fill="#555" text-anchor="middle">Nombre de cas</text>
<circle cx="697" cy="2245" r="6" fill="#2b2f45"/><text x="710" y="2248" font-size="8" fill="#777">2024</text>
<circle cx="782" cy="2245" r="6" fill="#0a8a4a"/><text x="795" y="2248" font-size="8" fill="#777">2022</text>
<circle cx="867" cy="2245" r="6" fill="#e53935"/><text x="880" y="2248" font-size="8" fill="#777">2023</text>
<circle cx="951" cy="2245" r="6" fill="#cfcfcf"/><text x="964" y="2248" font-size="8" fill="#777">95% intervalle de confiance</text>

<!-- DHIS2 logo -->
<g transform="translate(1330,1720) scale(0.3762,0.3444)" fill="none" stroke="#1686d6">
 <path d="M332 128 L565 298 L332 464 L100 298 Z" stroke-width="16" stroke-linejoin="round" vector-effect="non-scaling-stroke"/>
 <path d="M212 325 L332 250 L452 325" stroke-width="15" stroke-linejoin="round" vector-effect="non-scaling-stroke"/>
 <path d="M130 378 L100 405 L332 572 L565 405 L535 378" stroke-width="16" stroke-linejoin="round" vector-effect="non-scaling-stroke"/>
</g>
<!-- R logo -->
<g transform="translate(1330,1720) scale(0.3762,0.3444)">
 <path fill-rule="evenodd" fill="url(#rg)" d="M793 297 A362 262 0 1 0 1517 297 A362 262 0 1 0 793 297 Z M935 314 A270 176 0 1 1 1475 314 A270 176 0 1 1 935 314 Z"/>
 <path fill-rule="evenodd" fill="#2165b8" d="M1092 200 L1360 200 C1420 200 1452 260 1452 320 C1452 390 1410 430 1350 445 C1375 455 1390 470 1405 500 L1490 645 L1350 645 L1265 480 C1258 470 1250 468 1235 468 L1215 468 L1215 645 L1092 645 Z M1215 295 L1290 295 C1320 295 1328 315 1328 333 C1328 355 1315 372 1290 372 L1215 372 Z"/>
</g>
<!-- gear logo -->
<g transform="translate(1330,1720) scale(0.3762,0.3444)">
 <g fill="#aecbfa">
  <circle cx="333" cy="1190" r="195"/>
  <rect x="288" y="950" width="90" height="90" rx="15"/>
  <rect x="288" y="1340" width="90" height="90" rx="15"/>
  <rect x="98" y="1145" width="90" height="90" rx="15"/>
  <rect x="478" y="1145" width="90" height="90" rx="15"/>
  <rect x="288" y="950" width="90" height="90" rx="15" transform="rotate(45 333 1190)"/>
  <rect x="288" y="950" width="90" height="90" rx="15" transform="rotate(-45 333 1190)"/>
  <rect x="288" y="950" width="90" height="90" rx="15" transform="rotate(135 333 1190)"/>
  <rect x="288" y="950" width="90" height="90" rx="15" transform="rotate(-135 333 1190)"/>
 </g>
 <g clip-path="url(#gearR)" fill="#669df6">
  <circle cx="333" cy="1190" r="195"/>
  <rect x="288" y="950" width="90" height="90" rx="15"/>
  <rect x="288" y="1340" width="90" height="90" rx="15"/>
  <rect x="478" y="1145" width="90" height="90" rx="15"/>
  <rect x="288" y="950" width="90" height="90" rx="15" transform="rotate(45 333 1190)"/>
  <rect x="288" y="950" width="90" height="90" rx="15" transform="rotate(135 333 1190)"/>
 </g>
 <circle cx="333" cy="1190" r="142" fill="#fff"/>
 <g clip-path="url(#gearIn)" fill="none" stroke="#4285f4">
  <path d="M205 1225 C245 1140 310 1140 350 1200 C385 1255 430 1250 460 1185" stroke-width="60"/>
  <path d="M255 1090 C320 1060 400 1080 445 1150" stroke-width="30"/>
 </g>
</g>
<!-- python logo -->
<g transform="translate(1330,1720) scale(0.3762,0.3444)">
 <ellipse cx="1190" cy="1530" rx="140" ry="28" fill="#e4e4e4" opacity="0.8"/>
 <path fill="url(#pyb)" d="M1200 875 C1100 875 1072 900 1072 960 L1072 1005 L1200 1005 L1200 1022 L1020 1022 C960 1022 935 1070 935 1165 C935 1260 965 1305 1020 1305 L1055 1305 L1055 1240 C1055 1190 1090 1155 1140 1155 L1260 1155 C1300 1155 1328 1125 1328 1085 L1328 960 C1328 900 1280 875 1200 875 Z"/>
 <path fill="url(#pyy)" transform="rotate(180 1198.5 1165)" d="M1200 875 C1100 875 1072 900 1072 960 L1072 1005 L1200 1005 L1200 1022 L1020 1022 C960 1022 935 1070 935 1165 C935 1260 965 1305 1020 1305 L1055 1305 L1055 1240 C1055 1190 1090 1155 1140 1155 L1260 1155 C1300 1155 1328 1125 1328 1085 L1328 960 C1328 900 1280 875 1200 875 Z"/>
 <ellipse cx="1128" cy="942" rx="24" ry="25" fill="#fff"/>
 <ellipse cx="1269" cy="1388" rx="24" ry="25" fill="#fff"/>
</g>

<!-- inform gray box -->
<rect x="2145" y="1798" width="753" height="402" fill="#d9d9d9"/>
<g font-size="62" fill="#111" text-anchor="middle" font-weight="bold">
 <text x="2521" y="1876" textLength="365">Co-develop</text>
 <text x="2520" y="1945" textLength="401">open-source</text>
 <text x="2519" y="2013" textLength="446">software with</text>
 <text x="2520" y="2080" textLength="493">developers and</text>
 <text x="2522" y="2147" textLength="319">end-users</text>
</g>

<!-- ================= ASSES ================= -->
<rect x="272" y="2447" width="873" height="188" fill="#d9d9d9"/>
<text class="b" x="710" y="2526" text-anchor="middle" font-size="60" fill="#111" textLength="731">Difference-in-Difference</text>
<text class="b" x="710" y="2590" text-anchor="middle" font-size="60" fill="#111" textLength="245">Analysis</text>

<!-- DiD chart -->
<rect x="517" y="2660" width="462" height="417" fill="#fff"/>
<g stroke="#ebebeb">
 <path d="M517 3059 H979 M517 2976 H979 M517 2893 H979 M517 2811 H979 M517 2728 H979 M537 2660 V3077 M657 2660 V3077 M777 2660 V3077 M898 2660 V3077" stroke-width="2"/>
 <path d="M517 3018 H979 M517 2935 H979 M517 2852 H979 M517 2769 H979 M517 2686 H979 M597 2660 V3077 M717 2660 V3077 M838 2660 V3077 M958 2660 V3077" stroke-width="1"/>
</g>
<path d="M598 2660 V3077" stroke="#777" stroke-width="2" stroke-dasharray="2,5"/>
<polyline points="537,3059 657,2844 777,2976 958,2893" fill="none" stroke="#000" stroke-width="3" stroke-dasharray="13,9"/>
<polyline points="537,3042 657,2778 777,2761 958,2678" fill="none" stroke="#8b0000" stroke-width="2.5"/>
<g fill="#000"><circle cx="537" cy="3059" r="6"/><circle cx="657" cy="2844" r="6"/><circle cx="777" cy="2976" r="6"/><circle cx="958" cy="2893" r="6"/></g>
<g fill="#8b0000"><circle cx="537" cy="3042" r="6"/><circle cx="657" cy="2778" r="6"/><circle cx="777" cy="2761" r="6"/><circle cx="958" cy="2678" r="6"/></g>
<rect x="517" y="2660" width="462" height="417" fill="none" stroke="#444" stroke-width="1.5"/>
<rect x="601" y="2708" width="173" height="41" rx="5" fill="#fff" stroke="#8b1a1a" stroke-width="1.5"/>
<text x="687" y="2738" font-size="26" fill="#8b1a1a" text-anchor="middle">Intervention</text>
<rect x="720" y="2873" width="115" height="43" rx="5" fill="#fff" stroke="#333" stroke-width="1.5"/>
<text x="777" y="2904" font-size="27" fill="#111" text-anchor="middle">Control</text>
<path d="M511 3059 H517 M511 2976 H517 M511 2893 H517 M511 2811 H517 M511 2728 H517 M537 3077 V3083 M657 3077 V3083 M777 3077 V3083 M898 3077 V3083" stroke="#444" stroke-width="1.5"/>
<g font-size="22" fill="#4d4d4d" text-anchor="end">
 <text x="507" y="3067">25</text><text x="507" y="2984">30</text><text x="507" y="2901">35</text><text x="507" y="2819">40</text><text x="507" y="2736">45</text>
</g>
<g font-size="22" fill="#4d4d4d" text-anchor="middle">
 <text x="537" y="3110">2014</text><text x="657" y="3110">2016</text><text x="777" y="3110">2018</text><text x="898" y="3110">2020</text>
</g>
<text x="748" y="3147" font-size="28" fill="#111" text-anchor="middle">Year</text>
<text transform="translate(460,2870) rotate(-90)" font-size="29" fill="#111" text-anchor="middle">Access to Care</text>

<!-- center metrics -->
<g fill="#111" text-anchor="middle">
 <text class="b" x="1519" y="2557" font-size="50" textLength="234">Quantity</text>
 <text x="1518" y="2616" font-size="50" textLength="370">Visitation rates</text>
 <text class="b" x="1517" y="2716" font-size="50" textLength="280">Timeliness</text>
 <text x="1518" y="2775" font-size="50" textLength="644">Cases diagnosed in 24 hrs</text>
 <text class="b" x="1528" y="2877" font-size="50" textLength="187">Quality</text>
 <text x="1527" y="2937" font-size="50" textLength="651">Cases correctly diagnosed</text>
 <text class="b" x="1530" y="3030" font-size="50" textLength="191">Burden</text>
 <text x="1532" y="3088" font-size="50" textLength="398">Incidence Rates</text>
</g>

<!-- workshop photo -->
<g clip-path="url(#cpph)">
 <rect x="2082" y="2487" width="698" height="467" fill="url(#wall)"/>
 <rect x="2082" y="2487" width="70" height="150" fill="#5a3a22"/>
 <rect x="2082" y="2487" width="22" height="467" fill="#4a2e1a"/>
 <rect x="2382" y="2487" width="124" height="70" fill="#6b4a2a"/>
 <rect x="2395" y="2487" width="12" height="70" fill="#4a2e18"/><rect x="2430" y="2487" width="10" height="70" fill="#4a2e18"/><rect x="2470" y="2487" width="10" height="70" fill="#4a2e18"/>
 <rect x="2669" y="2487" width="111" height="110" fill="#d8c88e"/>
 <rect x="2669" y="2597" width="111" height="357" fill="#6b3d1f"/>
 <rect x="2740" y="2500" width="40" height="100" fill="#8a6a3a"/>
 <rect x="2104" y="2560" width="192" height="290" fill="#9b9b94"/>
 <rect x="2112" y="2570" width="176" height="275" fill="#e4e3dc"/>
 <rect x="2319" y="2555" width="63" height="190" fill="url(#perf)"/>
 <rect x="2372" y="2540" width="297" height="414" fill="#7c7d75"/>
 <rect x="2420" y="2566" width="182" height="226" fill="#ecebe3"/>
 <rect x="2382" y="2560" width="30" height="300" fill="#8c8d85"/>
 <g fill="#f0de76">
  <rect x="2125" y="2600" width="16" height="16"/><rect x="2150" y="2598" width="16" height="16"/><rect x="2178" y="2605" width="16" height="16"/>
  <rect x="2120" y="2640" width="16" height="16"/><rect x="2145" y="2645" width="16" height="16"/><rect x="2175" y="2660" width="16" height="16"/><rect x="2205" y="2650" width="16" height="16"/>
  <rect x="2125" y="2690" width="16" height="16"/><rect x="2150" y="2700" width="16" height="16"/><rect x="2200" y="2700" width="16" height="16"/>
  <rect x="2122" y="2740" width="16" height="16"/><rect x="2160" y="2745" width="16" height="16"/><rect x="2200" y="2760" width="16" height="16"/>
  <rect x="2435" y="2610" width="16" height="16"/><rect x="2465" y="2612" width="16" height="16"/><rect x="2510" y="2610" width="16" height="16"/><rect x="2545" y="2618" width="16" height="16"/>
  <rect x="2435" y="2655" width="16" height="16"/><rect x="2470" y="2660" width="16" height="16"/><rect x="2545" y="2665" width="16" height="16"/>
  <rect x="2440" y="2705" width="16" height="16"/><rect x="2480" y="2710" width="16" height="16"/><rect x="2525" y="2720" width="16" height="16"/>
  <rect x="2450" y="2750" width="16" height="16"/><rect x="2500" y="2755" width="16" height="16"/>
 </g>
 <text x="2432" y="2582" font-size="9" fill="#a0504a">POPULATION VULNERABLE</text>
 <!-- table / lower dark -->
 <rect x="2080" y="2855" width="700" height="100" fill="#3a2c20"/>
 <!-- laptop -->
 <rect x="2468" y="2790" width="115" height="72" fill="#2a2a2a"/>
 <rect x="2474" y="2795" width="103" height="62" fill="#e0e2e6"/>
 <rect x="2460" y="2860" width="130" height="8" fill="#555"/>
 <!-- left woman -->
 <path d="M2168 2960 C2165 2880 2180 2820 2235 2805 C2290 2810 2315 2850 2318 2960 Z" fill="#f2e6e8"/>
 <ellipse cx="2262" cy="2760" rx="30" ry="38" fill="#1a120c"/>
 <path d="M2235 2750 C2225 2790 2230 2820 2240 2835" stroke="#1a120c" stroke-width="8" fill="none"/>
 <!-- middle man -->
 <path d="M2358 2960 C2355 2860 2380 2805 2445 2795 C2515 2800 2545 2850 2545 2960 Z" fill="#c4514a"/>
 <path d="M2380 2960 L2390 2840 M2420 2960 L2425 2810 M2460 2960 L2462 2805 M2500 2960 L2500 2820 M2530 2960 L2528 2860 M2370 2870 H2540 M2365 2910 H2545" stroke="#e6a09a" stroke-width="4"/>
 <ellipse cx="2445" cy="2752" rx="32" ry="38" fill="#1c130d"/>
 <!-- right woman -->
 <path d="M2635 2960 C2635 2870 2655 2825 2700 2815 C2745 2825 2770 2870 2772 2960 Z" fill="#7a1f1a"/>
 <path d="M2660 2880 L2680 2900 M2720 2860 L2740 2890 M2700 2930 L2725 2945" stroke="#c45040" stroke-width="6"/>
 <ellipse cx="2700" cy="2777" rx="28" ry="35" fill="#1e140e"/>
 <!-- chairs -->
 <rect x="2095" y="2862" width="124" height="92" fill="#8b5a2b"/><rect x="2105" y="2872" width="104" height="12" fill="#a9743e"/><rect x="2105" y="2895" width="12" height="60" fill="#6a4020"/><rect x="2197" y="2895" width="12" height="60" fill="#6a4020"/>
 <rect x="2363" y="2878" width="124" height="76" fill="#8b5a2b"/><rect x="2373" y="2886" width="104" height="10" fill="#a9743e"/>
 <rect x="2583" y="2872" width="143" height="82" fill="#8b5a2b"/><rect x="2593" y="2880" width="123" height="10" fill="#a9743e"/>
</g>

<!-- evaluate box -->
<rect x="1981" y="2983" width="873" height="187" fill="#d9d9d9"/>
<text class="b" x="2418" y="3061" text-anchor="middle" font-size="60" fill="#111" textLength="769">Evaluate decision making</text>
<text class="b" x="2420" y="3124" text-anchor="middle" font-size="60" fill="#111" textLength="294">processes</text>

</svg>
</body></html>
